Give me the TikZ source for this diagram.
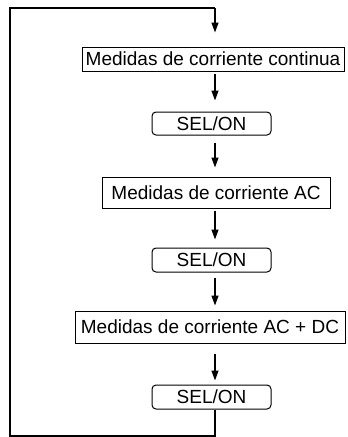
\documentclass[tikz,border=0pt]{standalone}
\usepackage{fontspec}
\setmainfont{Liberation Sans}
\usetikzlibrary{arrows.meta}
\begin{document}
\begin{tikzpicture}[x=1pt,y=-1pt,
  font=\fontsize{19}{22}\selectfont,
  box/.style={draw,line width=1pt,inner sep=0pt,minimum height=#1,anchor=center},
  selbox/.style={draw,line width=1pt,rounded corners=4pt,inner sep=0pt,minimum width=119pt,minimum height=#1},
  flow/.style={line width=1.3pt,-{Triangle[length=10pt,width=7pt]}},
  loop/.style={line width=1.6pt}]
\useasboundingbox (0,0) rectangle (348,437);
\coordinate (col) at (215,0);
\node[box=24pt,minimum width=262pt] (m1) at (213,59) {Medidas de corriente continua};
\node[selbox=23pt] (s1) at (211.5,123.5) {SEL/ON};
\node[box=31pt,minimum width=228pt] (m2) at (216,192.5) {Medidas de corriente AC};
\node[selbox=24pt] (s2) at (211.5,260) {SEL/ON};
\node[box=32pt,minimum width=270pt] (m3) at (210,327) {Medidas de corriente AC + DC};
\node[selbox=24pt] (s3) at (211.5,397) {SEL/ON};
\coordinate (bl) at (10,436);
\coordinate (tl) at (10,8);
\coordinate (tr) at (215,8);
\draw[flow,shorten <=2pt,shorten >=11pt] (col |- m1.south) -- (col |- s1.north);
\draw[flow,shorten <=7pt,shorten >=9pt] (col |- s1.south) -- (col |- m2.north);
\draw[flow,shorten <=2pt,shorten >=8pt] (col |- m2.south) -- (col |- s2.north);
\draw[flow,shorten <=5pt,shorten >=5pt] (col |- s2.south) -- (col |- m3.north);
\draw[flow,shorten <=10pt,shorten >=4pt] (col |- m3.south) -- (col |- s3.north);
\draw[loop,line join=miter] (col |- s3.south) -- (col |- bl) -- (bl) -- (tl) -- (tr);
\draw[flow,shorten >=14pt] (tr) -- (col |- m1.north);
\end{tikzpicture}
\end{document}
